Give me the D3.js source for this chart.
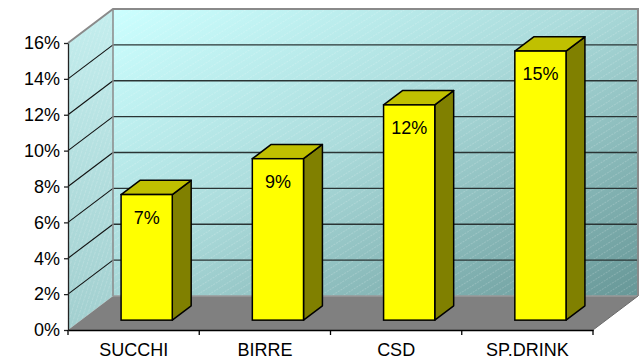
<!DOCTYPE html>
<html>
<head>
<meta charset="utf-8">
<script src="https://cdn.jsdelivr.net/npm/d3@7"></script>
<style>
  html, body { margin: 0; padding: 0; background: #fff; }
  svg { display: block; font-family: "Liberation Sans", Arial, sans-serif; }
</style>
</head>
<body>
<svg id="chart" width="641" height="359"></svg>
<script>
// Market share by category (percent)
const categories = ["SUCCHI", "BIRRE", "CSD", "SP.DRINK"];
const shares = [7, 9, 12, 15];
const yTicks = [0, 2, 4, 6, 8, 10, 12, 14, 16];

const svg = d3.select("#chart");
const FONT = 18;

// front plane of the 3D box
const x = d3.scaleBand().domain(categories).range([68, 593]);
const y = d3.scaleLinear().domain([0, 16]).range([330, 43]);

// oblique depth offset of the box
const DX = 45, DY = -34;
// bar occupies this slice of the depth
const T0 = 0.29, T1 = 0.71;
const barW = x.bandwidth() * 0.39;

const defs = svg.append("defs");

const wallGrad = defs.append("linearGradient").attr("id", "wallGrad")
  .attr("x1", "0%").attr("y1", "0%").attr("x2", "100%").attr("y2", "100%");
wallGrad.append("stop").attr("offset", "0%").attr("stop-color", "#ccffff");
wallGrad.append("stop").attr("offset", "45%").attr("stop-color", "#acdcdc");
wallGrad.append("stop").attr("offset", "100%").attr("stop-color", "#679797");

const sideGrad = defs.append("linearGradient").attr("id", "sideGrad")
  .attr("x1", "0%").attr("y1", "0%").attr("x2", "0%").attr("y2", "100%");
sideGrad.append("stop").attr("offset", "0%").attr("stop-color", "#c4eeee");
sideGrad.append("stop").attr("offset", "100%").attr("stop-color", "#a2cfcf");

function hatch(id, angle, gap, op) {
  const p = defs.append("pattern").attr("id", id)
    .attr("patternUnits", "userSpaceOnUse")
    .attr("width", gap).attr("height", gap)
    .attr("patternTransform", `rotate(${angle})`);
  p.append("line").attr("x1", 0).attr("y1", 0).attr("x2", gap).attr("y2", 0)
    .attr("stroke", "#ffffff").attr("stroke-opacity", op)
    .attr("stroke-width", 1).attr("stroke-dasharray", "2,1");
}
hatch("wallHatch", -32, 6, 0.35);
hatch("sideHatch", -72, 4, 0.3);

const x0 = x.range()[0], x1 = x.range()[1];
const yb = v => y(v) + DY; // value on the back wall

// side wall
const side = [[x0, y(0)], [x0 + DX, yb(0)], [x0 + DX, yb(16)], [x0, y(16)]];
svg.append("polygon").attr("points", side.join(" ")).attr("fill", "url(#sideGrad)");
svg.append("polygon").attr("points", side.join(" ")).attr("fill", "url(#sideHatch)");

// back wall
const back = [[x0 + DX, yb(16)], [x1 + DX, yb(16)], [x1 + DX, yb(0)], [x0 + DX, yb(0)]];
svg.append("polygon").attr("points", back.join(" ")).attr("fill", "url(#wallGrad)");
svg.append("polygon").attr("points", back.join(" ")).attr("fill", "url(#wallHatch)");

// gridlines on back wall and side wall
const inner = yTicks.filter(v => v > 0 && v < 16);
svg.append("g").selectAll("line").data(inner).join("line")
  .attr("x1", x0 + DX).attr("x2", x1 + DX)
  .attr("y1", v => yb(v)).attr("y2", v => yb(v))
  .attr("stroke", "#2a3434").attr("stroke-width", 1.3);
svg.append("g").selectAll("line").data(inner).join("line")
  .attr("x1", x0).attr("x2", x0 + DX)
  .attr("y1", v => y(v)).attr("y2", v => yb(v))
  .attr("stroke", "#111").attr("stroke-width", 1.1);

// wall edges
svg.append("path")
  .attr("d", `M${x0},${y(16)}L${x0 + DX},${yb(16)}L${x1 + DX},${yb(16)}L${x1 + DX},${yb(0)}`)
  .attr("fill", "none").attr("stroke", "#8a8a8a").attr("stroke-width", 2);
svg.append("line")
  .attr("x1", x0 + DX).attr("x2", x0 + DX).attr("y1", yb(16)).attr("y2", yb(0))
  .attr("stroke", "#8a8a8a").attr("stroke-width", 1.5);

// floor
const floor = [[x0, y(0)], [x1, y(0)], [x1 + DX, yb(0)], [x0 + DX, yb(0)]];
svg.append("polygon").attr("points", floor.join(" ")).attr("fill", "#808080");
svg.append("line")
  .attr("x1", x0 + DX).attr("x2", x1 + DX).attr("y1", yb(0)).attr("y2", yb(0))
  .attr("stroke", "#9a9a9a").attr("stroke-width", 1.5);
svg.append("line")
  .attr("x1", x1).attr("x2", x1 + DX).attr("y1", y(0)).attr("y2", yb(0))
  .attr("stroke", "#6a6a6a").attr("stroke-width", 1);

// bars
const bars = svg.append("g").selectAll("g").data(categories.map((c, i) => ({ c, v: shares[i] })))
  .join("g");

function face(d) {
  const fx = x(d.c) + (x.bandwidth() - barW) / 2 + T0 * DX;
  const fyB = y(0) + T0 * DY;
  const fyT = y(d.v) + T0 * DY;
  const ddx = (T1 - T0) * DX, ddy = (T1 - T0) * DY;
  return { fx, fyB, fyT, ddx, ddy };
}

bars.append("polygon") // side
  .attr("points", d => {
    const f = face(d);
    return [[f.fx + barW, f.fyB], [f.fx + barW + f.ddx, f.fyB + f.ddy],
            [f.fx + barW + f.ddx, f.fyT + f.ddy], [f.fx + barW, f.fyT]].join(" ");
  })
  .attr("fill", "#808000").attr("stroke", "#000").attr("stroke-width", 1.5)
  .attr("stroke-linejoin", "round");
bars.append("polygon") // top
  .attr("points", d => {
    const f = face(d);
    return [[f.fx, f.fyT], [f.fx + f.ddx, f.fyT + f.ddy],
            [f.fx + barW + f.ddx, f.fyT + f.ddy], [f.fx + barW, f.fyT]].join(" ");
  })
  .attr("fill", "#c0c000").attr("stroke", "#000").attr("stroke-width", 1.5)
  .attr("stroke-linejoin", "round");
bars.append("rect") // front
  .attr("x", d => face(d).fx).attr("y", d => face(d).fyT)
  .attr("width", barW).attr("height", d => face(d).fyB - face(d).fyT)
  .attr("fill", "#ffff00").attr("stroke", "#000").attr("stroke-width", 1.5);
bars.append("text")
  .attr("x", d => face(d).fx + barW / 2)
  .attr("y", d => face(d).fyT + 29)
  .attr("text-anchor", "middle").attr("font-size", FONT).attr("fill", "#000")
  .text(d => d.v + "%");

// value axis
const yAxis = svg.append("g").attr("transform", `translate(${x0},0)`)
  .call(d3.axisLeft(y).tickValues(yTicks).tickFormat(d => d + "%").tickSize(4).tickPadding(4).tickSizeOuter(0));
yAxis.select(".domain").attr("stroke", "#222").attr("stroke-width", 1.3);
yAxis.selectAll(".tick line").attr("stroke", "#222").attr("stroke-width", 1.3);
yAxis.selectAll("text").attr("font-size", FONT).attr("fill", "#000")
  .attr("font-family", "Liberation Sans, Arial, sans-serif");

// category axis
const xAxis = svg.append("g").attr("transform", `translate(0,${y(0)})`)
  .call(d3.axisBottom(x).tickSize(0).tickPadding(13));
xAxis.select(".domain").attr("stroke", "#000").attr("stroke-width", 1.5);
xAxis.selectAll("text").attr("font-size", FONT).attr("fill", "#000")
  .attr("font-family", "Liberation Sans, Arial, sans-serif");
const bounds = categories.map(c => x(c)).concat([x1]);
xAxis.append("g").selectAll("line").data(bounds).join("line")
  .attr("x1", d => d).attr("x2", d => d).attr("y1", 0).attr("y2", 5)
  .attr("stroke", "#000").attr("stroke-width", 1.3);
</script>
</body>
</html>
